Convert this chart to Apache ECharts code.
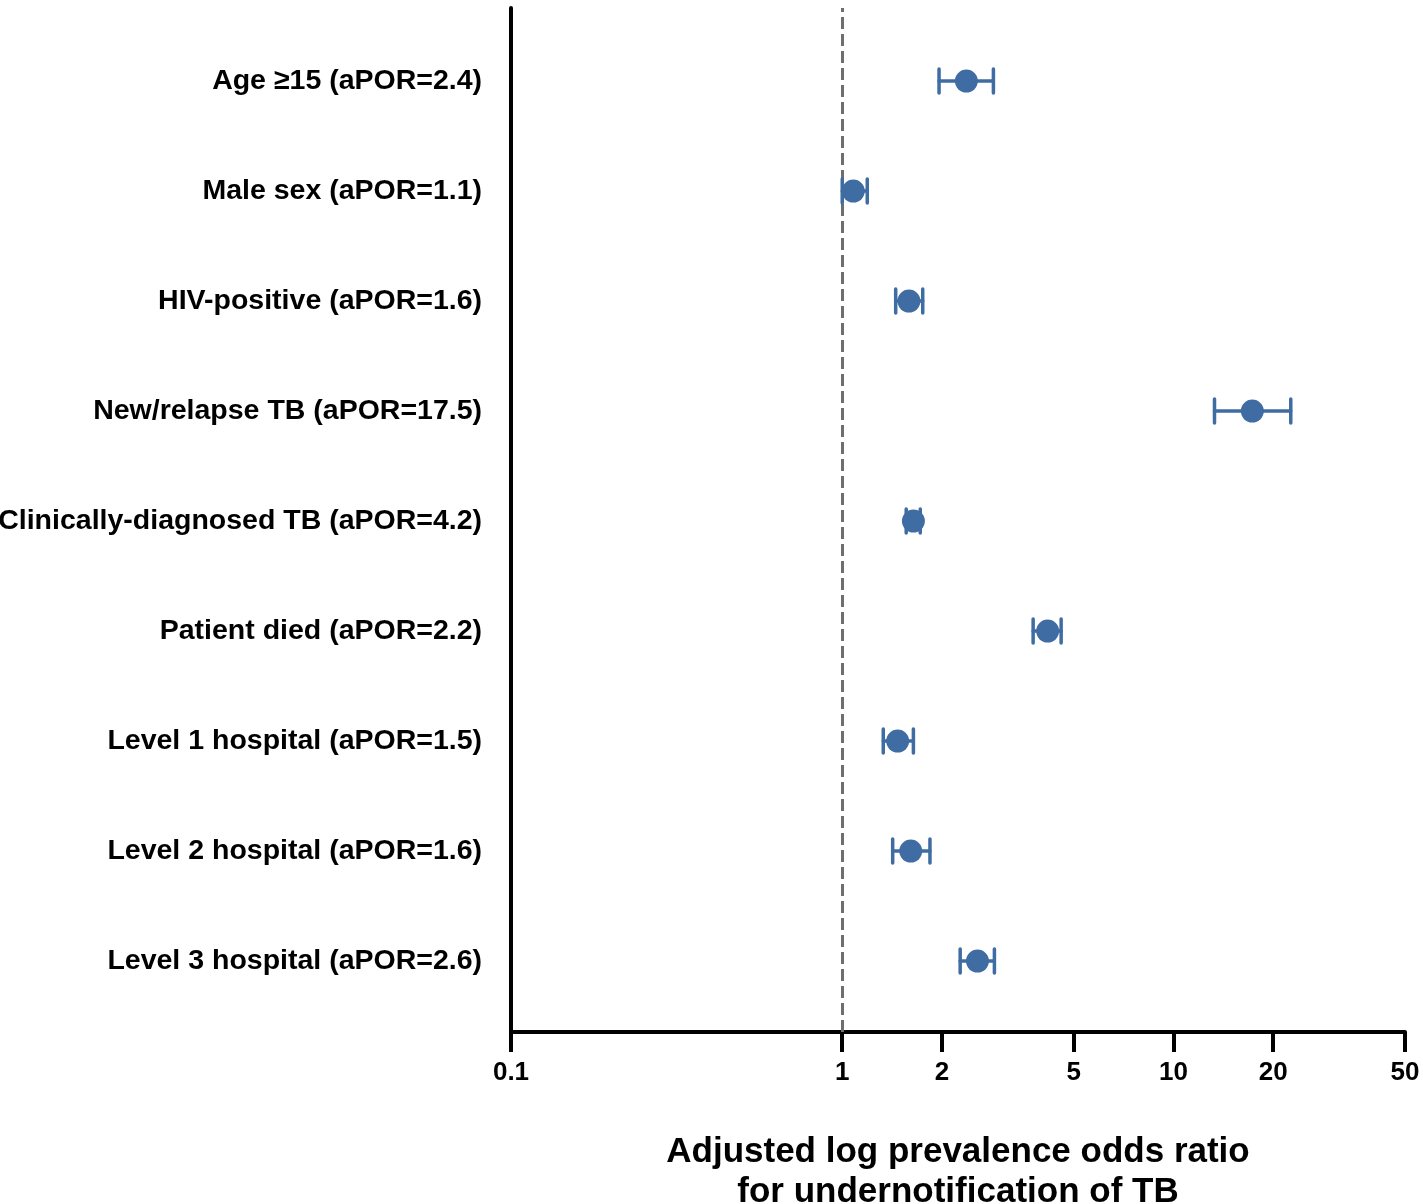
<!DOCTYPE html>
<html><head><meta charset="utf-8">
<script src="https://cdn.jsdelivr.net/npm/echarts@6/dist/echarts.min.js"></script>
<style>html,body{margin:0;padding:0;background:#fff}#c{width:1423px;height:1204px}</style>
</head><body><div id="c"></div>
<script>
const categories = [
  'Age \u226515 (aPOR=2.4)',
  'Male sex (aPOR=1.1)',
  'HIV-positive (aPOR=1.6)',
  'New/relapse TB (aPOR=17.5)',
  'Clinically-diagnosed TB (aPOR=4.2)',
  'Patient died (aPOR=2.2)',
  'Level 1 hospital (aPOR=1.5)',
  'Level 2 hospital (aPOR=1.6)',
  'Level 3 hospital (aPOR=2.6)'
];
const rowPos = [9, 8, 7, 6, 5, 4, 3, 2, 1];
const estimates = [2.37, 1.08, 1.59, 17.3, 1.64, 4.17, 1.47, 1.61, 2.56];
const lowerCI   = [1.96, 1.00, 1.45, 13.3, 1.56, 3.77, 1.33, 1.42, 2.27];
const upperCI   = [2.86, 1.19, 1.75, 22.6, 1.72, 4.58, 1.64, 1.84, 2.88];
const xTicks = [0.1, 1, 2, 5, 10, 20, 50];
const xMin = 0.1, xMax = 50;
const refLine = 1;
const xTitle = 'Adjusted log prevalence odds ratio\nfor undernotification of TB';

const COLOR = '#3f6ca3';
const FONT = '"Liberation Sans", Arial, Helvetica, sans-serif';
const Y_MIN = 0.355, Y_MAX = 9.664;

const chart = echarts.init(document.getElementById('c'), null, {renderer: 'canvas'});
chart.setOption({
  animation: false,
  backgroundColor: '#ffffff',
  grid: {left: 511, right: 18, top: 8, bottom: 172, containLabel: false, outerBoundsMode: 'none'},
  xAxis: [{
    type: 'log', logBase: 10, min: xMin, max: xMax,
    name: xTitle, nameLocation: 'middle', nameGap: 100,
    nameTextStyle: {fontFamily: FONT, fontWeight: 'bold', fontSize: 35, color: '#000', lineHeight: 40},
    axisLine: {show: true, lineStyle: {color: '#000', width: 4}},
    axisTick: {show: false},
    minorTick: {show: false},
    splitLine: {show: false},
    axisLabel: {customValues: xTicks, margin: 28, fontFamily: FONT, fontWeight: 'bold', fontSize: 26, color: '#000',
      formatter: v => String(+(+v).toPrecision(3))}
  }, {
    // companion axis in log10 units, used only to draw the tick marks of the log axis
    type: 'value', position: 'bottom', offset: 0,
    min: Math.log10(xMin), max: Math.log10(xMax),
    axisLine: {show: false},
    axisLabel: {show: false},
    splitLine: {show: false},
    axisTick: {show: true, inside: false, length: 20, lineStyle: {color: '#000', width: 4},
      customValues: xTicks.map(v => Math.log10(v))}
  }],
  yAxis: {
    type: 'value', min: Y_MIN, max: Y_MAX,
    axisLine: {show: true, onZero: false, lineStyle: {color: '#000', width: 4}},
    axisTick: {show: false},
    splitLine: {show: false},
    axisLabel: {customValues: rowPos, margin: 29, fontFamily: FONT, fontWeight: 'bold', fontSize: 28.5, color: '#000',
      formatter: v => categories[rowPos.indexOf(Math.round(v))] || ''}
  },
  series: [
    {
      type: 'custom',
      xAxisIndex: 0,
      data: categories.map((c, i) => [lowerCI[i], upperCI[i], rowPos[i]]),
      encode: {x: [0, 1], y: 2},
      z: 3,
      renderItem: function (params, api) {
        const y = api.value(2);
        const p1 = api.coord([api.value(0), y]);
        const p2 = api.coord([api.value(1), y]);
        const h = 12;
        const style = {stroke: COLOR, lineWidth: 3.5, lineCap: 'round', fill: null};
        return {type: 'group', children: [
          {type: 'line', shape: {x1: p1[0], y1: p1[1], x2: p2[0], y2: p2[1]}, style: style},
          {type: 'line', shape: {x1: p1[0], y1: p1[1] - h, x2: p1[0], y2: p1[1] + h}, style: style},
          {type: 'line', shape: {x1: p2[0], y1: p2[1] - h, x2: p2[0], y2: p2[1] + h}, style: style}
        ]};
      }
    },
    {
      type: 'scatter',
      xAxisIndex: 0,
      data: categories.map((c, i) => [estimates[i], rowPos[i]]),
      symbol: 'circle', symbolSize: 23,
      itemStyle: {color: COLOR, opacity: 1},
      z: 4,
      markLine: {
        silent: true, symbol: ['none', 'none'], label: {show: false},
        lineStyle: {color: '#6e6e6e', width: 3, type: [12, 5]},
        data: [{xAxis: refLine}],
        z: 2
      }
    }
  ]
});
</script></body></html>
